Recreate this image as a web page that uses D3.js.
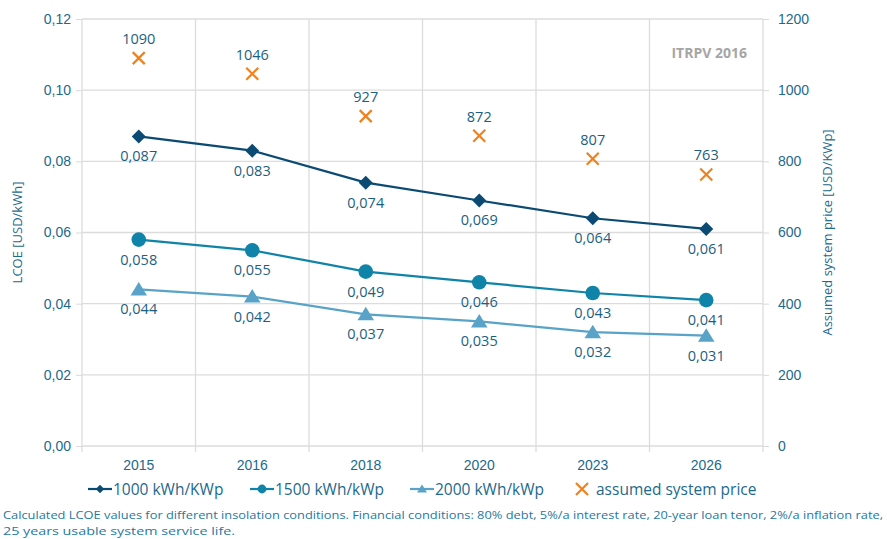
<!DOCTYPE html>
<html>
<head>
<meta charset="utf-8">
<script src="https://cdn.jsdelivr.net/npm/d3@7"></script>
<style>
  body { margin: 0; background: #fff; }
  svg { font-family: "Open Sans", "Noto Sans", sans-serif; }
  .axis text { fill: #1c6a8c; font-size: 14px; }
  .axis path { display: none; }
  .axis line { stroke: #d9d9d9; }
</style>
</head>
<body>
<div id="chart"><svg></svg></div>
<script>
// chart data
const years = ["2015", "2016", "2018", "2020", "2023", "2026"];
const lcoe1000 = [0.087, 0.083, 0.074, 0.069, 0.064, 0.061];
const lcoe1500 = [0.058, 0.055, 0.049, 0.046, 0.043, 0.041];
const lcoe2000 = [0.044, 0.042, 0.037, 0.035, 0.032, 0.031];
const systemPrice = [1090, 1046, 927, 872, 807, 763];
const leftTicks = [0, 0.02, 0.04, 0.06, 0.08, 0.10, 0.12];
const rightTicks = [0, 200, 400, 600, 800, 1000, 1200];

const config = {
  width: 887, height: 539,
  margin: {top: 19, right: 124, bottom: 93, left: 82}
};

const svg = d3.select("#chart svg")
  .attr("width", config.width)
  .attr("height", config.height);

const width = config.width - config.margin.left - config.margin.right;
const height = config.height - config.margin.top - config.margin.bottom;

const chart = svg.append("g")
  .attr("transform", `translate(${config.margin.left},${config.margin.top})`);

const xScale = d3.scaleBand().domain(years).range([0, width]);
const yLeft = d3.scaleLinear().domain([0, 0.12]).range([height, 0]);
const yRight = d3.scaleLinear().domain([0, 1200]).range([height, 0]);

const fmt = d3.format(".3f");
const comma = s => s.replace(".", ",");

// horizontal gridlines
chart.append("g").selectAll("line")
  .data(leftTicks)
  .join("line")
  .attr("x1", 0).attr("x2", width)
  .attr("y1", d => yLeft(d)).attr("y2", d => yLeft(d))
  .attr("stroke", "#dcdcdc").attr("stroke-width", 1.3);

// vertical gridlines at category boundaries
const bounds = years.map(d => xScale(d)).concat([width]);
chart.append("g").selectAll("line")
  .data(bounds)
  .join("line")
  .attr("x1", d => d).attr("x2", d => d)
  .attr("y1", 0).attr("y2", height + 6)
  .attr("stroke", "#dcdcdc").attr("stroke-width", 1.3);

// axes
const yAxisL = d3.axisLeft(yLeft).tickValues(leftTicks).tickSize(6).tickPadding(5)
  .tickFormat(d => d3.format(".2f")(d).replace(".", ","));
chart.append("g").attr("class", "axis").call(yAxisL);

const yAxisR = d3.axisRight(yRight).tickValues(rightTicks).tickSize(6).tickPadding(9)
  .tickFormat(d3.format("d"));
chart.append("g").attr("class", "axis")
  .attr("transform", `translate(${width},0)`).call(yAxisR);

const xAxis = d3.axisBottom(xScale).tickSize(0).tickPadding(14);
chart.append("g").attr("class", "axis")
  .attr("transform", `translate(0,${height})`).call(xAxis);

// axis titles
svg.append("text")
  .attr("transform", `translate(22,${config.margin.top + height / 2}) rotate(-90)`)
  .attr("text-anchor", "middle")
  .attr("fill", "#1c6a8c").attr("font-size", 13)
  .text("LCOE [USD/kWh]");

svg.append("text")
  .attr("transform", `translate(832,${config.margin.top + height / 2}) rotate(-90)`)
  .attr("text-anchor", "middle")
  .attr("fill", "#1c6a8c").attr("font-size", 13)
  .text("Assumed system price [USD/KWp]");

// watermark
chart.append("text")
  .attr("x", width - 16).attr("y", 39)
  .attr("text-anchor", "end")
  .attr("fill", "#a6a6a6").attr("font-size", 14).attr("font-weight", "bold")
  .text("ITRPV 2016");

const xc = d => xScale(d) + xScale.bandwidth() / 2;

const diamond = r => `M0,${-r}L${r},0L0,${r}L${-r},0Z`;
const circle = r => d3.symbol().type(d3.symbolCircle).size(Math.PI * r * r)();
const triangle = r => `M0,${-r}L${r * 1.1},${r * 0.8}L${-r * 1.1},${r * 0.8}Z`;

const series = [
  {values: lcoe1000, color: "#0b4a72", shape: diamond, r: 7, name: "1000 kWh/KWp"},
  {values: lcoe1500, color: "#0f84a8", shape: circle, r: 7.3, name: "1500 kWh/kWp"},
  {values: lcoe2000, color: "#58a3c7", shape: triangle, r: 7.5, name: "2000 kWh/kWp"}
];

const line = d3.line()
  .x((d, i) => xc(years[i]))
  .y(d => yLeft(d));

series.forEach(s => {
  chart.append("path")
    .datum(s.values)
    .attr("fill", "none")
    .attr("stroke", s.color)
    .attr("stroke-width", 2.2)
    .attr("d", line);

  chart.append("g").selectAll("path")
    .data(s.values)
    .join("path")
    .attr("transform", (d, i) => `translate(${xc(years[i])},${yLeft(d)})`)
    .attr("d", s.shape(s.r))
    .attr("fill", s.color);

  chart.append("g").selectAll("text")
    .data(s.values)
    .join("text")
    .attr("x", (d, i) => xc(years[i]))
    .attr("y", d => yLeft(d) + 25)
    .attr("text-anchor", "middle")
    .attr("fill", "#1c5f80").attr("font-size", 14.5)
    .text(d => comma(fmt(d)));
});

// system price crosses
const cross = chart.append("g").selectAll("g")
  .data(systemPrice)
  .join("g")
  .attr("transform", (d, i) => `translate(${xc(years[i])},${yRight(d)})`);
cross.append("path")
  .attr("d", "M-6,-6L6,6M-6,6L6,-6")
  .attr("stroke", "#f0821e").attr("stroke-width", 2.2);
cross.append("text")
  .attr("y", -14)
  .attr("text-anchor", "middle")
  .attr("fill", "#1c5f80").attr("font-size", 14.5)
  .text(d => d);

// legend
const legendY = 489;
const legendItems = [
  {x: 88, ...series[0]},
  {x: 250, ...series[1]},
  {x: 410, ...series[2]}
];
legendItems.forEach(it => {
  svg.append("line")
    .attr("x1", it.x).attr("x2", it.x + 24)
    .attr("y1", legendY).attr("y2", legendY)
    .attr("stroke", it.color).attr("stroke-width", 2.2);
  svg.append("path")
    .attr("transform", `translate(${it.x + 12},${legendY})`)
    .attr("d", it.shape(it.r * 0.6))
    .attr("fill", it.color);
  svg.append("text")
    .attr("x", it.x + 25).attr("y", legendY + 5.5)
    .attr("fill", "#1c6a8c").attr("font-size", 15.5)
    .text(it.name);
});
svg.append("path")
  .attr("transform", `translate(582,${legendY})`)
  .attr("d", "M-6,-6L6,6M-6,6L6,-6")
  .attr("stroke", "#f0821e").attr("stroke-width", 2.2);
svg.append("text")
  .attr("x", 596).attr("y", legendY + 5.5)
  .attr("fill", "#1c6a8c").attr("font-size", 15.5)
  .text("assumed system price");

// caption
const caption = [
  {text: "Calculated LCOE values for different insolation conditions. Financial conditions: 80% debt, 5%/a interest rate, 20-year loan tenor, 2%/a inflation rate,", len: 880},
  {text: "25 years usable system service life.", len: 232}
];
svg.append("g").selectAll("text")
  .data(caption)
  .join("text")
  .attr("x", 3)
  .attr("y", (d, i) => 519 + i * 16)
  .attr("fill", "#1c7aa3").attr("font-size", 11.3)
  .attr("textLength", d => d.len)
  .attr("lengthAdjust", "spacingAndGlyphs")
  .text(d => d.text);
</script>
</body>
</html>
